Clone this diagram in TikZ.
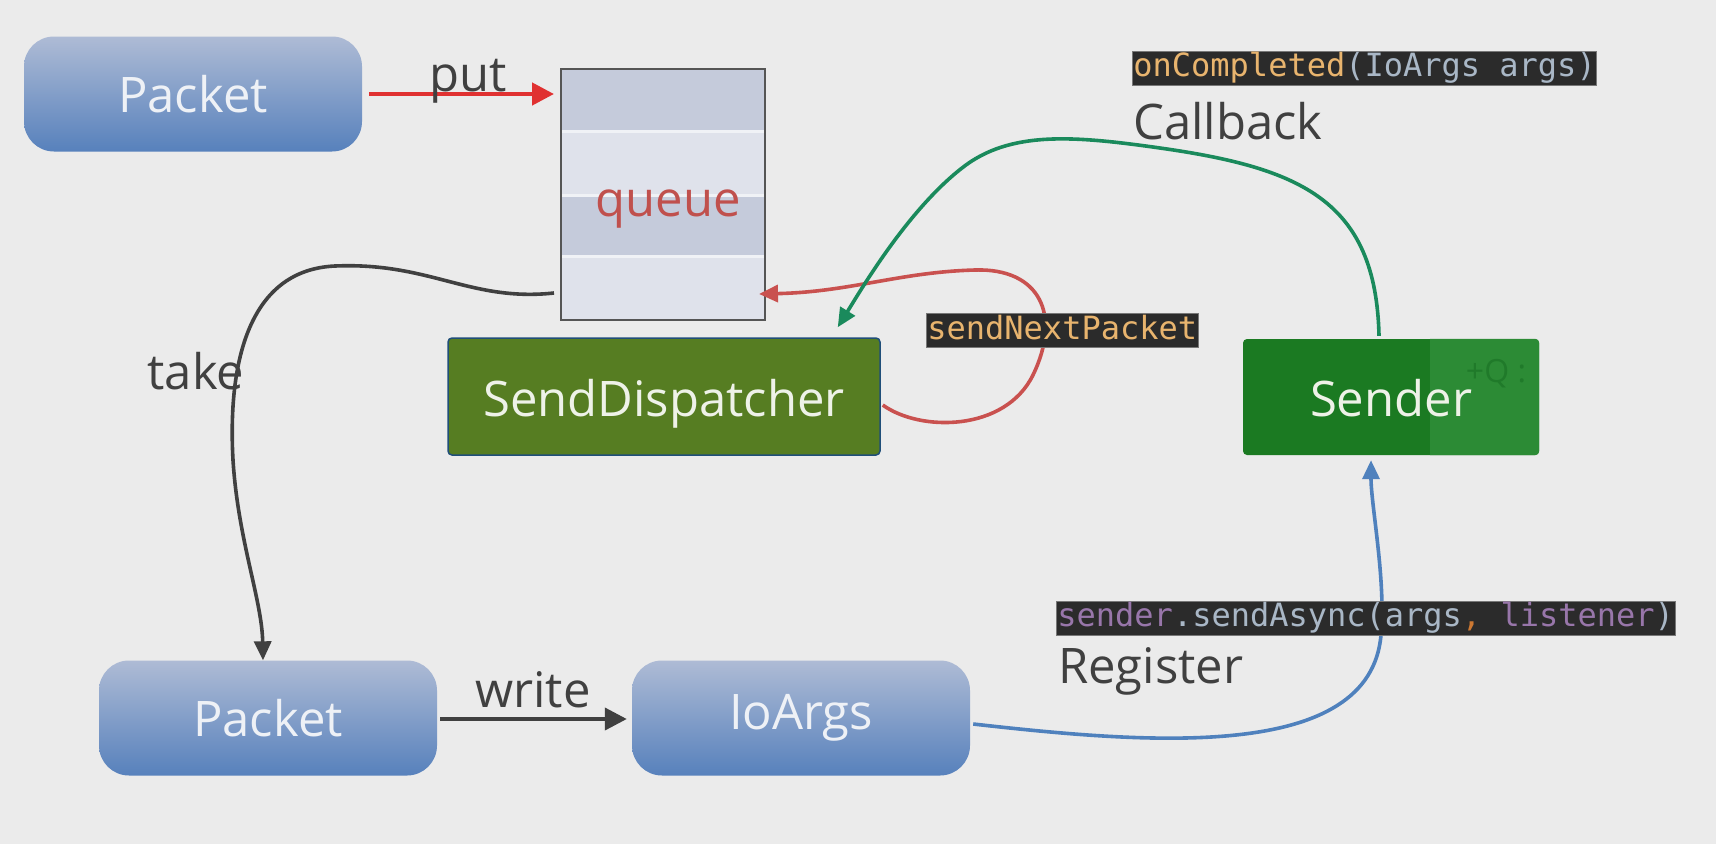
\documentclass[tikz,border=0pt]{standalone}
\usepackage{fontspec}
\setmainfont{Open Sans}
\newfontfamily\codefont{DejaVu Sans Mono}
\usetikzlibrary{arrows.meta}

\definecolor{bgcol}{HTML}{EBEBEB}
\definecolor{pilltop}{HTML}{AEBBD5}
\definecolor{pillbot}{HTML}{5781BC}
\definecolor{pilltext}{HTML}{EEF1F6}
\definecolor{rowdark}{HTML}{C5CBDB}
\definecolor{rowlight}{HTML}{DFE2EB}
\definecolor{rowline}{HTML}{F0F2F6}
\definecolor{qborder}{HTML}{555555}
\definecolor{qtext}{HTML}{C0504D}
\definecolor{sdfill}{HTML}{567D22}
\definecolor{sdborder}{HTML}{1F4E79}
\definecolor{sndfill}{HTML}{1B7A22}
\definecolor{sndlight}{HTML}{2C8B35}
\definecolor{sndghost}{HTML}{207A2A}
\definecolor{boxtext}{HTML}{EEF2E8}
\definecolor{labelgray}{HTML}{404040}
\definecolor{putred}{HTML}{E03131}
\definecolor{loopred}{HTML}{C9514F}
\definecolor{cbgreen}{HTML}{1A8A5C}
\definecolor{regblue}{HTML}{4F81BD}
\definecolor{takegray}{HTML}{404040}
\definecolor{codebg}{HTML}{2B2B2B}
\definecolor{codeborder}{HTML}{777777}
\definecolor{codeorange}{HTML}{E8B46E}
\definecolor{codeplain}{HTML}{A9B7C6}
\definecolor{codepurple}{HTML}{9876AA}
\definecolor{codecomma}{HTML}{CC7832}

\tikzset{
  bigtext/.style={font=\fontsize{49}{53}\selectfont},
  pill/.style={bigtext, text=pilltext, top color=pilltop, bottom color=pillbot,
    rounded corners=30pt, minimum width=338pt, minimum height=115pt, inner sep=0pt},
  greenbox/.style={bigtext, text=boxtext, rounded corners=4pt, inner sep=0pt},
  lbl/.style={bigtext, text=labelgray, inner sep=0pt},
  codebox/.style={font=\codefont\fontsize{32}{35}\selectfont, fill=codebg,
    draw=codeborder, line width=0.8pt, inner xsep=1pt, inner ysep=1.5pt,
    text height=24pt, text depth=7pt, anchor=west},
  conn/.style={line width=3.6pt},
  bigtip/.style={-{Triangle[length=22pt,width=22pt]}},
  midtip/.style={-{Triangle[length=19pt,width=17pt]}},
}

\begin{document}
\begin{tikzpicture}[x=1pt,y=-1pt]
\fill[bgcol] (0,0) rectangle (1716,844);
\useasboundingbox (0,0) rectangle (1716,844);

% --- queue with its four slots ---
\fill[rowdark]  (561,69)  rectangle (765,131);
\fill[rowlight] (561,131) rectangle (765,195);
\fill[rowdark]  (561,195) rectangle (765,256);
\fill[rowlight] (561,256) rectangle (765,320);
\foreach \yy in {131,195,256}
  \draw[rowline, line width=3pt] (562,\yy) -- (764,\yy);
\node[draw=qborder, line width=2pt, minimum width=204pt, minimum height=251pt,
      inner sep=0pt] (q) at (663,194.5) {};
\node[bigtext, text=qtext, inner sep=0pt] (qlabel) at (668,209) {queue};

% --- blocks ---
\node[pill] (pk1) at (193,94) {Packet};
\node[pill] (pk2) at (268,718) {Packet};
\node[pill] (io)  at (801,718) {IoArgs};

\node[greenbox, fill=sdfill, draw=sdborder, line width=1.5pt,
      minimum width=432pt, minimum height=117pt] (sd) at (664,396.5) {};
\node[bigtext, text=boxtext] (sdtext) at ([yshift=-7pt]sd.center) {SendDispatcher};

\node[greenbox, fill=sndfill, minimum width=296pt, minimum height=116pt] (snd) at (1391,397) {};
\fill[sndlight] ([xshift=39pt]snd.north) [rounded corners=4pt] -- (snd.north east)
  -- (snd.south east) [sharp corners] -- ([xshift=39pt]snd.south) -- cycle;
\node[font=\fontsize{32}{34}\selectfont, text=sndghost, inner sep=0pt] (ghost) at (1496,374) {+Q :};
\node[bigtext, text=boxtext] (sndtext) at (1391,398) {Sender};

% --- put ---
\draw[conn, putred, line width=4.5pt, bigtip, shorten <=7pt, shorten >=6pt]
  (pk1.east) -- (pk1.east -| q.west);
\node[lbl, anchor=base] (putlbl) at (468,91) {put};

% --- take ---
\coordinate (takeS) at ([xshift=-6pt,yshift=28pt]q.south west);
\coordinate (takeE) at ([xshift=-5pt]pk2.north);
\draw[conn, takegray, midtip]
  (takeS) .. controls (470,302) and (430,262) .. (335,266)
          .. controls (245,270) and (228,370) .. (233,460)
          .. controls (238,540) and (262,600) .. (takeE);
\node[lbl] (takelbl) at (196,371) {take};

% --- write ---
\draw[conn, takegray, line width=4pt, bigtip, shorten <=3pt, shorten >=5pt]
  ([yshift=-1pt]pk2.east) -- ([yshift=-1pt]io.west);
\node[lbl, anchor=base] (writelbl) at (533,707) {write};

% --- sendNextPacket loop ---
\coordinate (loopS) at ([xshift=2pt,yshift=-8.5pt]sd.east);
\coordinate (loopE) at ([xshift=-7pt,yshift=27pt]q.south east);
\draw[conn, loopred, midtip]
  (loopS) .. controls (920,432) and (1005,432) .. (1033,375)
          .. controls (1062,315) and (1040,268) .. (975,270)
          .. controls (900,272) and (850,292) .. (loopE);
\node[codebox, text=codeorange] (nextlbl) at (926,330.5) {sendNextPacket};

% --- callback ---
\coordinate (cbS) at ([xshift=-12pt,yshift=3pt]snd.north);
\coordinate (cbE) at ([xshift=-43pt,yshift=10pt]sd.north east);
\draw[conn, cbgreen, midtip]
  (cbS) .. controls (1376,200) and (1300,168) .. (1160,148)
        .. controls (1075,136) and (1010,130) .. (962,168)
        .. controls (908,210) and (862,288) .. (cbE);
\node[codebox] (cblbl) at (1132,68)
  {\textcolor{codeorange}{onCompleted}\textcolor{codeplain}{(IoArgs args)}};
\node[lbl, anchor=west] (cbtext) at (1133,121) {Callback};

% --- register ---
\coordinate (regS) at ([xshift=3pt,yshift=-6pt]io.east);
\coordinate (regE) at ([xshift=-20pt,yshift=-5pt]snd.south);
\draw[conn, regblue, midtip]
  (regS) .. controls (1150,744) and (1370,762) .. (1381,635)
         .. controls (1386,580) and (1371,505) .. (regE);
\node[codebox] (reglbl) at (1056,618)
  {\textcolor{codepurple}{sender}\textcolor{codeplain}{.sendAsync(args}\textcolor{codecomma}{,}\textcolor{codepurple}{\ listener}\textcolor{codeplain}{)}};
\node[lbl, anchor=west] (regtext) at (1058,671) {Register};
\end{tikzpicture}
\end{document}
